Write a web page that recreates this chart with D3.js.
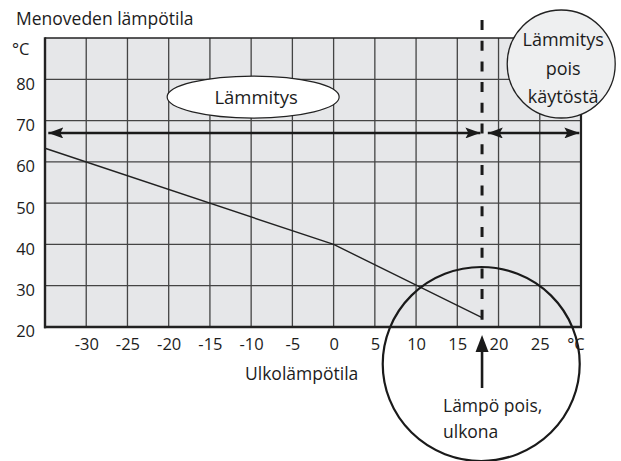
<!DOCTYPE html>
<html>
<head>
<meta charset="utf-8">
<script src="https://cdn.jsdelivr.net/npm/d3@7/dist/d3.min.js"></script>
<style>
  html, body { margin: 0; padding: 0; background: #fff; }
  svg { display: block; font-family: "Open Sans", "Noto Sans", sans-serif; }
</style>
</head>
<body>
<svg id="chart" width="621" height="461"></svg>
<script>
// ---- data ----
const xTicks = [-30, -25, -20, -15, -10, -5, 0, 5, 10, 15, 20, 25];
const yTicks = [20, 30, 40, 50, 60, 70, 80];
const xDomain = [-35, 30];
const yDomain = [20, 90];
const curveX = [-35, 0, 18];
const curveY = [63.3, 40, 22.3];
const cutoffTemp = 18;
const arrowLevel = 67;
const heatingRange = [-34.6, 17.8];
const offRange = [18.7, 29.8];
const yTitle = "Menoveden lämpötila";
const xTitle = "Ulkolämpötila";
const unitLabel = "°C";
const heatingLabel = "Lämmitys";
const offLabel = ["Lämmitys", "pois", "käytöstä"];
const cutoffLabel = ["Lämpö pois,", "ulkona"];

// ---- layout ----
const svg = d3.select("#chart");
const L = 45, R = 581, T = 38, B = 327;
const x = d3.scaleLinear().domain(xDomain).range([L, R]);
const y = d3.scaleLinear().domain(yDomain).range([B, T]);
const ink = "#1c1c1c";

// background
svg.append("rect").attr("x", L).attr("y", T).attr("width", R - L).attr("height", B - T)
  .attr("fill", "#e6e7e9");

// grid
const grid = svg.append("g");
grid.selectAll("line.v").data(xTicks).join("line")
  .attr("x1", d => x(d)).attr("x2", d => x(d)).attr("y1", T).attr("y2", B)
  .attr("stroke", "#444").attr("stroke-width", 1.3);
grid.selectAll("line.h").data(yTicks.slice(1)).join("line")
  .attr("x1", L).attr("x2", R).attr("y1", d => y(d)).attr("y2", d => y(d))
  .attr("stroke", "#444").attr("stroke-width", 1.3);

// curve
const pts = curveX.map((v, i) => [v, curveY[i]]);
svg.append("path").datum(pts)
  .attr("d", d3.line().x(d => x(d[0])).y(d => y(d[1])))
  .attr("fill", "none").attr("stroke", "#222").attr("stroke-width", 1.4);

// frame
svg.append("line").attr("x1", L).attr("x2", R).attr("y1", T).attr("y2", T).attr("stroke", "#222").attr("stroke-width", 1.6);
svg.append("line").attr("x1", R).attr("x2", R).attr("y1", T).attr("y2", B).attr("stroke", "#222").attr("stroke-width", 2.2);
svg.append("line").attr("x1", L).attr("x2", L).attr("y1", T - 0.8).attr("y2", B + 1.2).attr("stroke", "#222").attr("stroke-width", 2.4);
svg.append("line").attr("x1", L - 1).attr("x2", R + 1).attr("y1", B).attr("y2", B).attr("stroke", "#222").attr("stroke-width", 2.6);

// axes (labels only)
const yAxis = svg.append("g").attr("transform", `translate(${L},0)`)
  .call(d3.axisLeft(y).tickValues(yTicks).tickSize(0).tickPadding(10).tickFormat(d => String(d)));
yAxis.select(".domain").remove();
yAxis.selectAll("text").attr("dy", "0.6em").style("font-size", "16.5px").attr("fill", ink)
  .style("font-family", '"Open Sans", sans-serif');

const xAxis = svg.append("g").attr("transform", `translate(0,${B})`)
  .call(d3.axisBottom(x).tickValues(xTicks).tickSize(0).tickPadding(11.5).tickFormat(d => String(d)));
xAxis.select(".domain").remove();
xAxis.selectAll("text").style("font-size", "16.5px").attr("fill", ink)
  .style("font-family", '"Open Sans", sans-serif');

// unit labels
svg.append("text").attr("x", 12).attr("y", 55).text(unitLabel)
  .style("font-size", "16.5px").attr("fill", ink);
svg.append("text").attr("x", x(xDomain[1]) - 5).attr("y", 350).attr("text-anchor", "middle").text(unitLabel)
  .style("font-size", "16.5px").attr("fill", ink);

// titles
svg.append("text").attr("x", 16).attr("y", 25).text(yTitle)
  .style("font-size", "17.5px").attr("fill", ink);
svg.append("text").attr("x", 245).attr("y", 380).text(xTitle)
  .style("font-size", "17.5px").attr("fill", ink);

// arrow markers
const defs = svg.append("defs");
defs.append("marker").attr("id", "ah").attr("markerUnits", "userSpaceOnUse")
  .attr("viewBox", "0 0 15 11").attr("refX", 15).attr("refY", 5.5)
  .attr("markerWidth", 15).attr("markerHeight", 11).attr("orient", "auto-start-reverse")
  .append("path").attr("d", "M0,0 L15,5.5 L0,11 L3,5.5 Z").attr("fill", "#1a1a1a");

// Lämmitys ellipse
const ex = x(-10) + 2, ey = y(75.7);
svg.append("ellipse").attr("cx", ex).attr("cy", ey).attr("rx", 86).attr("ry", 21)
  .attr("fill", "#fff").attr("stroke", "#222").attr("stroke-width", 1.2);
svg.append("text").attr("x", ex + 3).attr("y", ey + 6.5).attr("text-anchor", "middle")
  .text(heatingLabel).style("font-size", "18.5px").attr("fill", ink);

// horizontal arrows
[heatingRange, offRange].forEach(r => {
  svg.append("line").attr("x1", x(r[0])).attr("x2", x(r[1]))
    .attr("y1", y(arrowLevel)).attr("y2", y(arrowLevel))
    .attr("stroke", "#1a1a1a").attr("stroke-width", 2.6)
    .attr("marker-start", "url(#ah)").attr("marker-end", "url(#ah)");
});

// dashed cutoff line
svg.append("line").attr("x1", x(cutoffTemp)).attr("x2", x(cutoffTemp))
  .attr("y1", 20).attr("y2", B - 2)
  .attr("stroke", "#1a1a1a").attr("stroke-width", 3).attr("stroke-dasharray", "10,10.7");

// bubble "Lämmitys pois käytöstä"
const bx = x(27.6), by = y(83.7);
svg.append("circle").attr("cx", bx).attr("cy", by).attr("r", 54)
  .attr("fill", "#eeeff0").attr("stroke", "#222").attr("stroke-width", 1.3);
offLabel.forEach((t, i) => {
  svg.append("text").attr("x", bx + 2).attr("y", [46, 75, 103][i]).attr("text-anchor", "middle")
    .text(t).style("font-size", "18px").attr("fill", ink);
});

// big circle
svg.append("ellipse").attr("cx", x(17.9)).attr("cy", y(11.04)).attr("rx", 98.5).attr("ry", 97)
  .attr("fill", "none").attr("stroke", "#1a1a1a").attr("stroke-width", 2.2);

// upward arrow
const ax = x(cutoffTemp);
svg.append("line").attr("x1", ax).attr("x2", ax).attr("y1", B + 61).attr("y2", B + 20)
  .attr("stroke", "#1a1a1a").attr("stroke-width", 2.6);
svg.append("path")
  .attr("d", `M${ax},${B + 8} L${ax + 6.5},${B + 25} L${ax - 6.5},${B + 25} Z`)
  .attr("fill", "#1a1a1a");

cutoffLabel.forEach((t, i) => {
  svg.append("text").attr("x", 443).attr("y", [412, 438][i]).text(t)
    .style("font-size", "17.5px").attr("fill", ink);
});
</script>
</body>
</html>
